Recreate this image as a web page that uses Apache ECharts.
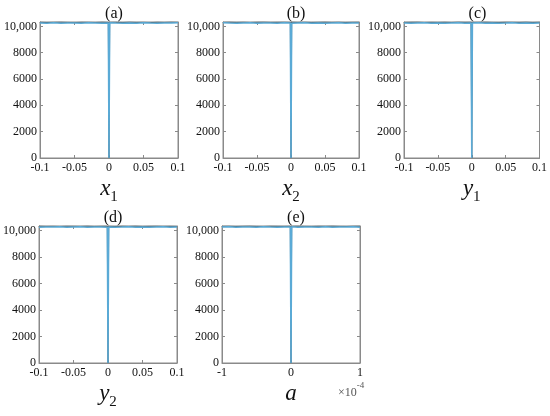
<!DOCTYPE html>
<html>
<head>
<meta charset="utf-8">
<script src="https://cdn.jsdelivr.net/npm/echarts@6/dist/echarts.min.js"></script>
<style>
  html, body { margin: 0; padding: 0; background: #fff; }
  #chart { width: 550px; height: 416px; }
</style>
</head>
<body>
<div id="chart"></div>
<script>
// x positions (parameter offset), panels a-d
const xs = [-0.1, -0.09, -0.08, -0.07, -0.06, -0.05, -0.04, -0.03, -0.02, -0.01, -0.001, 0,
  0.001, 0.01, 0.02, 0.03, 0.04, 0.05, 0.06, 0.07, 0.08, 0.09, 0.1];
// x positions for panel e (units of 1e-4)
const xsA = [-1, -0.9, -0.8, -0.7, -0.6, -0.5, -0.4, -0.3, -0.2, -0.1, -0.01, 0,
  0.01, 0.1, 0.2, 0.3, 0.4, 0.5, 0.6, 0.7, 0.8, 0.9, 1];

const panelTitles = ['(a)', '(b)', '(c)', '(d)', '(e)'];
const axisNames = [['x', '1'], ['x', '2'], ['y', '1'], ['y', '2'], ['a', '']];
const xTicks = ['-0.1', '-0.05', '0', '0.05', '0.1'];
const aTicks = ['-1', '0', '1'];
const yTicks = { 0: '0', 2000: '2000', 4000: '4000', 6000: '6000', 8000: '8000', 10000: '10,000' };

const darkA = [10320, 10290, 10310, 10330, 10300, 10280, 10320, 10310, 10290, 10330, 10300, 0,
  10310, 10320, 10290, 10330, 10300, 10310, 10280, 10320, 10300, 10330, 10310];
const lightA = [10260, 10240, 10270, 10230, 10260, 10250, 10240, 10270, 10260, 10230, 10260, 0,
  10270, 10250, 10240, 10260, 10230, 10270, 10250, 10240, 10260, 10250, 10270];
const darkB = [10310, 10330, 10300, 10320, 10290, 10320, 10330, 10300, 10310, 10320, 10300, 0,
  10330, 10300, 10320, 10290, 10310, 10330, 10300, 10320, 10290, 10310, 10320];
const lightB = [10270, 10250, 10240, 10260, 10270, 10230, 10250, 10260, 10240, 10270, 10250, 0,
  10240, 10260, 10270, 10240, 10250, 10230, 10260, 10270, 10240, 10260, 10250];
const darkC = [10300, 10320, 10330, 10290, 10310, 10300, 10320, 10290, 10330, 10310, 10320, 0,
  10300, 10310, 10330, 10300, 10290, 10320, 10310, 10300, 10330, 10290, 10320];
const lightC = [10250, 10230, 10260, 10270, 10240, 10260, 10230, 10250, 10270, 10240, 10260, 0,
  10250, 10270, 10230, 10260, 10240, 10250, 10270, 10230, 10260, 10240, 10250];
const darkD = [10330, 10300, 10310, 10290, 10320, 10310, 10300, 10330, 10290, 10310, 10320, 0,
  10310, 10290, 10320, 10300, 10330, 10290, 10310, 10320, 10300, 10310, 10290];
const lightD = [10240, 10260, 10250, 10270, 10230, 10260, 10270, 10240, 10250, 10260, 10240, 0,
  10260, 10240, 10250, 10270, 10240, 10260, 10230, 10250, 10270, 10240, 10260];
const darkE = [10310, 10320, 10290, 10310, 10330, 10300, 10290, 10320, 10310, 10300, 10320, 0,
  10310, 10330, 10300, 10290, 10320, 10310, 10330, 10300, 10290, 10320, 10330];
const lightE = [10250, 10270, 10240, 10250, 10260, 10230, 10270, 10250, 10240, 10260, 10250, 0,
  10270, 10240, 10260, 10250, 10230, 10270, 10240, 10260, 10250, 10270, 10240];

const darkSets = [darkA, darkB, darkC, darkD, darkE];
const lightSets = [lightA, lightB, lightC, lightD, lightE];

const grids = [
  { left: 40, top: 22, width: 138, height: 136 },
  { left: 223, top: 22, width: 136, height: 136 },
  { left: 404, top: 22, width: 137, height: 136 },
  { left: 39, top: 226, width: 138, height: 137 },
  { left: 222, top: 226, width: 138, height: 137 }
];

const serif = 'Liberation Serif';
const frameColor = '#8a8a8a';

function pairs(x, y) {
  return x.map((v, i) => [v, y[i]]);
}

function xRange(i) {
  return i === 4 ? { min: -1, max: 1, interval: 1 } : { min: -0.1, max: 0.1, interval: 0.05 };
}

const lineStyle = { show: true, onZero: false, lineStyle: { color: frameColor } };
const tickStyle = { inside: true, length: 3, lineStyle: { color: frameColor } };

const bottomAxes = grids.map((g, i) => {
  const isA = i === 4;
  const ticks = isA ? aTicks : xTicks;
  const r = xRange(i);
  return Object.assign({
    type: 'value',
    gridIndex: i,
    position: 'bottom',
    name: '{v|' + axisNames[i][0] + '}' + (axisNames[i][1] ? '{s|' + axisNames[i][1] + '}' : ''),
    nameLocation: 'middle',
    nameGap: 19,
    nameTextStyle: {
      rich: {
        v: { fontFamily: serif, fontStyle: 'italic', fontSize: 23, color: '#111', lineHeight: 28, verticalAlign: 'top' },
        s: { fontFamily: serif, fontSize: 15, color: '#111', lineHeight: 28, verticalAlign: 'bottom' }
      }
    },
    axisLine: lineStyle,
    axisTick: tickStyle,
    splitLine: { show: false },
    axisLabel: {
      fontFamily: serif, fontSize: 12, color: '#111', margin: 4,
      formatter: function (v) {
        const n = Math.round((v - r.min) / r.interval);
        return ticks[n] !== undefined ? ticks[n] : '';
      }
    }
  }, r);
});

// top axes: ticks only, like the boxed frame of the original
const topAxes = grids.map((g, i) => Object.assign({
  type: 'value', gridIndex: i, position: 'top',
  axisLine: lineStyle, axisTick: tickStyle, axisLabel: { show: false }, splitLine: { show: false }
}, xRange(i)));

const leftAxes = grids.map((g, i) => ({
  type: 'value',
  gridIndex: i,
  position: 'left',
  min: 0,
  max: 10330,
  interval: 2000,
  axisLine: lineStyle,
  axisTick: tickStyle,
  splitLine: { show: false },
  axisLabel: {
    fontFamily: serif, fontSize: 12, color: '#111', margin: 3, showMaxLabel: false,
    formatter: function (v) { return yTicks[v] !== undefined ? yTicks[v] : ''; }
  }
}));

const rightAxes = grids.map((g, i) => ({
  type: 'value', gridIndex: i, position: 'right',
  min: 0, max: 10330, interval: 2000,
  axisLine: lineStyle, axisTick: tickStyle, axisLabel: { show: false }, splitLine: { show: false }
}));

const option = {
  animation: false,
  textStyle: { fontFamily: serif },
  title: grids.map((g, i) => ({
    text: panelTitles[i],
    left: g.left + g.width / 2,
    top: g.top - 21,
    textAlign: 'center',
    textStyle: { fontFamily: serif, fontSize: 16, fontWeight: 'normal', color: '#111' }
  })),
  grid: grids.map(g => Object.assign({ show: true, borderColor: frameColor, borderWidth: 1 }, g)),
  xAxis: bottomAxes.concat(topAxes),
  yAxis: leftAxes.concat(rightAxes),
  graphic: [{
    type: 'text',
    left: 338,
    top: 381,
    style: {
      text: '{m|×10}{e|-4}',
      rich: {
        m: { fontFamily: serif, fontSize: 12, fill: '#555', lineHeight: 18, verticalAlign: 'bottom' },
        e: { fontFamily: serif, fontSize: 9, fill: '#555', lineHeight: 18, verticalAlign: 'top' }
      }
    }
  }],
  series: []
};

grids.forEach((g, i) => {
  const x = i === 4 ? xsA : xs;
  option.series.push({
    type: 'line', xAxisIndex: i, yAxisIndex: i, symbol: 'none',
    data: pairs(x, darkSets[i]),
    lineStyle: { color: '#4d5d63', width: 1 }
  });
  option.series.push({
    type: 'line', xAxisIndex: i, yAxisIndex: i, symbol: 'none',
    data: pairs(x, lightSets[i]),
    lineStyle: { color: '#5aaad6', width: 1.5 }
  });
});

const chart = echarts.init(document.getElementById('chart'));
chart.setOption(option);
window.onresize = function () { chart.resize(); };
</script>
</body>
</html>
